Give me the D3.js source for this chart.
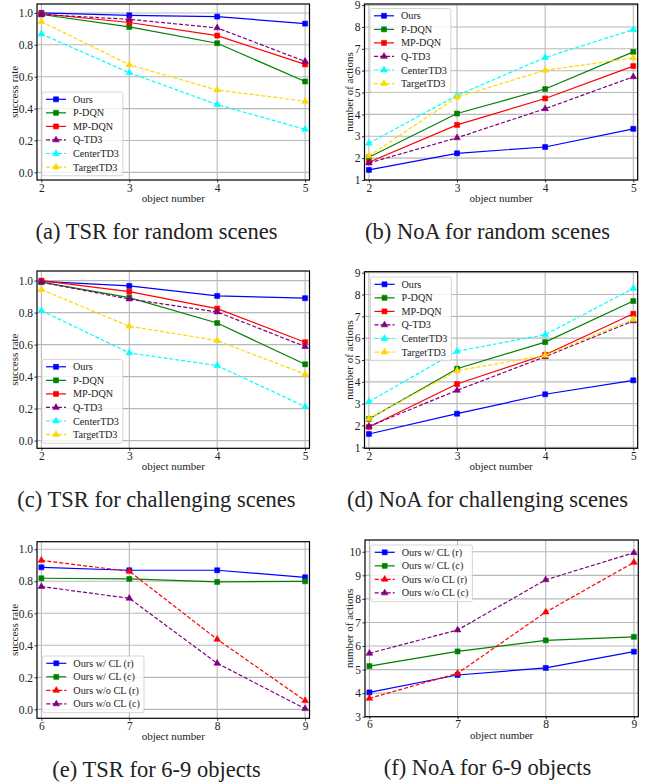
<!DOCTYPE html>
<html>
<head>
<meta charset="utf-8">
<title>TSR / NoA</title>
<script src="https://cdn.jsdelivr.net/npm/d3@7"></script>
<style>
  body { margin: 0; background: #fff; }
  text { font-family: "Liberation Serif", "Times New Roman", serif; fill: #222; }
</style>
</head>
<body>
<svg id="fig" width="651" height="783"></svg>
<script>
// ---- data ----
var objSmall = [2, 3, 4, 5];
var objLarge = [6, 7, 8, 9];

var methods = ["Ours", "P-DQN", "MP-DQN", "Q-TD3", "CenterTD3", "TargetTD3"];
var ablations = ["Ours w/ CL (r)", "Ours w/ CL (c)", "Ours w/o CL (r)", "Ours w/o CL (c)"];

var tsrRandom = [
  [1.0, 0.985, 0.977, 0.933],
  [0.99, 0.912, 0.81, 0.57],
  [0.995, 0.94, 0.858, 0.677],
  [0.99, 0.96, 0.906, 0.696],
  [0.868, 0.625, 0.425, 0.27],
  [0.946, 0.675, 0.516, 0.446]
];
var noaRandom = [
  [1.46, 2.22, 2.51, 3.34],
  [2.04, 4.04, 5.16, 6.86],
  [1.81, 3.52, 4.73, 6.21],
  [1.78, 2.93, 4.26, 5.72],
  [2.68, 4.87, 6.60, 7.88],
  [2.10, 4.79, 6.02, 6.58]
];
var tsrChallenging = [
  [0.995, 0.967, 0.904, 0.89],
  [0.99, 0.894, 0.735, 0.477],
  [1.0, 0.931, 0.825, 0.615],
  [0.99, 0.885, 0.804, 0.588],
  [0.8125, 0.548, 0.469, 0.2125],
  [0.944, 0.715, 0.625, 0.415]
];
var noaChallenging = [
  [1.61, 2.54, 3.43, 4.07],
  [2.30, 4.60, 5.82, 7.70],
  [1.93, 3.90, 5.24, 7.12],
  [1.96, 3.61, 5.15, 6.79],
  [3.09, 5.40, 6.16, 8.28],
  [2.31, 4.51, 5.21, 6.86]
];
var tsrMany = [
  [0.8875, 0.869, 0.869, 0.825],
  [0.819, 0.815, 0.796, 0.80],
  [0.931, 0.8625, 0.4375, 0.054],
  [0.767, 0.694, 0.2875, 0.004]
];
var noaMany = [
  [4.03, 4.77, 5.07, 5.76],
  [5.15, 5.77, 6.24, 6.39],
  [3.78, 4.84, 7.44, 9.55],
  [5.69, 6.68, 8.81, 9.96]
];

var rateTicks = [0, 0.2, 0.4, 0.6, 0.8, 1.0];
var actionTicks = [1, 2, 3, 4, 5, 6, 7, 8, 9];
var actionTicksMany = [3, 4, 5, 6, 7, 8, 9, 10];

var captions = [
  "(a) TSR for random scenes", "(b) NoA for random scenes",
  "(c) TSR for challenging scenes", "(d) NoA for challenging scenes",
  "(e) TSR for 6-9 objects", "(f) NoA for 6-9 objects"
];

// ---- styles ----
var methodStyle = [
  {c: "#0000ff", dash: null, m: "sq"},
  {c: "#008000", dash: null, m: "sq"},
  {c: "#ff0000", dash: null, m: "sq"},
  {c: "#800080", dash: "4,2", m: "tri"},
  {c: "#00ffff", dash: "4,2", m: "tri"},
  {c: "#ffd700", dash: "4,2", m: "tri"}
];
var ablationStyle = [
  {c: "#0000ff", dash: null, m: "sq"},
  {c: "#008000", dash: null, m: "sq"},
  {c: "#ff0000", dash: "4,2", m: "tri"},
  {c: "#800080", dash: "4,2", m: "tri"}
];

var svg = d3.select("#fig");
var fmt1 = d3.format(".1f");

var panels = [
  {x0: 37, x1: 309.5, y0: 4, y1: 180, xlim: [1.95, 5.05], ylim: [-0.048, 1.056],
   xs: objSmall, rows: tsrRandom, names: methods, st: methodStyle,
   yt: rateTicks, f: fmt1, yl: "success rate", ylx: 18, lg: [42, 92]},
  {x0: 364.5, x1: 637.7, y0: 4, y1: 180, xlim: [1.95, 5.05], ylim: [1, 9.05],
   xs: objSmall, rows: noaRandom, names: methods, st: methodStyle,
   yt: actionTicks, f: d3.format("d"), yl: "number of actions", ylx: 352.5, lg: [370, 8.5]},
  {x0: 37, x1: 309.5, y0: 271, y1: 448.3, xlim: [1.95, 5.05], ylim: [-0.048, 1.06],
   xs: objSmall, rows: tsrChallenging, names: methods, st: methodStyle,
   yt: rateTicks, f: fmt1, yl: "success rate", ylx: 18, lg: [42, 359.5]},
  {x0: 364.5, x1: 637.7, y0: 271.7, y1: 448.3, xlim: [1.95, 5.05], ylim: [0.955, 9.045],
   xs: objSmall, rows: noaChallenging, names: methods, st: methodStyle,
   yt: actionTicks, f: d3.format("d"), yl: "number of actions", ylx: 352.5, lg: [370.5, 277]},
  {x0: 37, x1: 309.5, y0: 541.7, y1: 718.3, xlim: [5.95, 9.05], ylim: [-0.056, 1.0475],
   xs: objLarge, rows: tsrMany, names: ablations, st: ablationStyle,
   yt: rateTicks, f: fmt1, yl: "success rate", ylx: 18, lg: [42.3, 656]},
  {x0: 365, x1: 638.3, y0: 540, y1: 716.7, xlim: [5.95, 9.05], ylim: [3, 10.5],
   xs: objLarge, rows: noaMany, names: ablations, st: ablationStyle,
   yt: actionTicksMany, f: d3.format("d"), yl: "number of actions", ylx: 352.5, lg: [370.7, 545]}
];

function marker(sel, s) {
  var sym = s.m === "sq" ? d3.symbol(d3.symbolSquare, 25) : d3.symbol(d3.symbolTriangle, 19);
  sel.attr("d", sym).attr("fill", s.c).attr("stroke", s.c).attr("stroke-width", 0.6);
}

function drawPanel(p, k) {
  var g = svg.append("g");
  var x = d3.scaleLinear().domain(p.xlim).range([p.x0, p.x1]);
  var y = d3.scaleLinear().domain(p.ylim).range([p.y1, p.y0]);

  // grid
  g.append("g").selectAll("line").data(p.xs).join("line")
    .attr("x1", d => x(d)).attr("x2", d => x(d))
    .attr("y1", p.y0).attr("y2", p.y1)
    .attr("stroke", "#b8b8b8").attr("stroke-width", 1.1);
  g.append("g").selectAll("line").data(p.yt).join("line")
    .attr("x1", p.x0).attr("x2", p.x1)
    .attr("y1", d => y(d)).attr("y2", d => y(d))
    .attr("stroke", "#b8b8b8").attr("stroke-width", 1.1);

  // series
  var line = d3.line().x((d, i) => x(p.xs[i])).y(d => y(d));
  p.rows.forEach(function (row, j) {
    var s = p.st[j];
    g.append("path").datum(row).attr("d", line)
      .attr("fill", "none").attr("stroke", s.c).attr("stroke-width", 1.2)
      .attr("stroke-dasharray", s.dash);
    g.append("g").selectAll("path").data(row).join("path")
      .attr("transform", (d, i) => "translate(" + x(p.xs[i]) + "," + y(d) + ")")
      .call(marker, s);
  });

  // axes
  var ax = g.append("g").attr("transform", "translate(0," + p.y1 + ")")
    .call(d3.axisBottom(x).tickValues(p.xs).tickSize(2.5).tickPadding(1).tickFormat(d3.format("d")));
  var ay = g.append("g").attr("transform", "translate(" + p.x0 + ",0)")
    .call(d3.axisLeft(y).tickValues(p.yt).tickSize(2.5).tickPadding(1.5).tickFormat(p.f));
  [ax, ay].forEach(function (a) {
    a.select(".domain").remove();
    a.selectAll(".tick line").attr("stroke", "#000").attr("stroke-width", 0.8);
    a.selectAll(".tick text").attr("font-family", "Liberation Serif").attr("font-size", 11.5).attr("fill", "#222");
  });

  g.append("rect").attr("x", p.x0).attr("y", p.y0)
    .attr("width", p.x1 - p.x0).attr("height", p.y1 - p.y0)
    .attr("fill", "none").attr("stroke", "#000").attr("stroke-width", 1.2);

  g.append("text").attr("x", (p.x0 + p.x1) / 2).attr("y", p.y1 + 22)
    .attr("text-anchor", "middle").attr("font-size", 11).text("object number");
  g.append("text").attr("transform", "translate(" + p.ylx + "," + (p.y0 + p.y1) / 2 + ") rotate(-90)")
    .attr("text-anchor", "middle").attr("font-size", 11).text(p.yl);

  // legend
  var lx = p.lg[0], ly = p.lg[1], step = 13.55;
  var box = g.append("rect").attr("x", lx).attr("y", ly).attr("rx", 2)
    .attr("height", step * (p.names.length - 1) + 16)
    .attr("fill", "#fff").attr("fill-opacity", 0.8)
    .attr("stroke", "#cccccc").attr("stroke-width", 0.8);
  var maxW = 0;
  p.names.forEach(function (n, j) {
    var s = p.st[j], cy = ly + 7.3 + j * step;
    g.append("line").attr("x1", lx + 4).attr("x2", lx + 24).attr("y1", cy).attr("y2", cy)
      .attr("stroke", s.c).attr("stroke-width", 1.2).attr("stroke-dasharray", s.dash);
    g.append("path").attr("transform", "translate(" + (lx + 14) + "," + cy + ")").call(marker, s);
    var t = g.append("text").attr("x", lx + 31).attr("y", cy + 3.5)
      .attr("font-size", 10.2).text(n);
    maxW = Math.max(maxW, t.node().getComputedTextLength());
  });
  box.attr("width", 31 + maxW + 4);

  // caption
  svg.append("text").attr("x", k % 2 === 0 ? 156.5 : 487.5).attr("y", p.y1 + 58.5)
    .attr("text-anchor", "middle").attr("font-size", 22.5).attr("fill", "#111")
    .text(captions[k]);
}

panels.forEach(drawPanel);
</script>
</body>
</html>
